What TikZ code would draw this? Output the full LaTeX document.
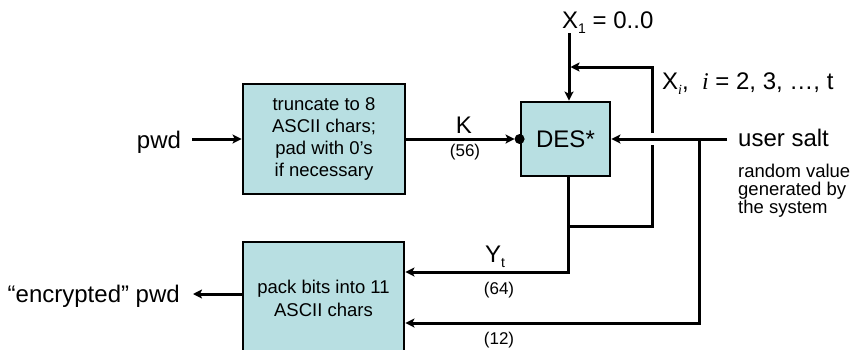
\documentclass[tikz,border=0pt]{standalone}
\usepackage{fontspec}
\setmainfont{Liberation Sans}
\newfontfamily\serifit{Liberation Serif}
\usetikzlibrary{arrows.meta}
\definecolor{boxfill}{RGB}{184,223,226}
\newcommand{\myfs}[2]{\fontsize{#1pt}{#2pt}\selectfont}
\newcommand{\mysub}[1]{\raisebox{-5pt}{\myfs{14}{14}#1}}
\begin{document}
\begin{tikzpicture}[x=1pt,y=-1pt,
  line/.style={line width=3pt},
  arr/.style={line width=3pt,-{Stealth[length=9pt,width=9pt,inset=2pt]}},
  box/.style={draw,line width=2.8pt,fill=boxfill,inner sep=0pt,align=center},
  lbl/.style={inner sep=0pt,font=\myfs{24}{28}},
  small/.style={inner sep=0pt,font=\myfs{17}{20}},
  note/.style={inner sep=0pt,font=\myfs{18.5}{18},align=left}]
\useasboundingbox (0,0) rectangle (852,349);
\clip (0,0) rectangle (852,349);
% boxes
\node[box,minimum width=162pt,minimum height=110pt,font=\myfs{18.5}{22}] (b1) at (324,139)
  {truncate to 8\\ASCII chars;\\pad with 0’s\\if necessary};
\node[box,minimum width=89pt,minimum height=74pt,font=\myfs{24}{28}] (des) at (565.5,139) {DES*};
\node[box,minimum width=161pt,minimum height=112pt,font=\myfs{18.5}{23}] (b2) at (323.5,298)
  {pack bits into 11\\ASCII chars};
% labels
\node[lbl,anchor=base] (pwd) at (159,148) {pwd};
\node[lbl,anchor=base east] (enc) at (180,302) {“encrypted” pwd};
\node[lbl] (K) at (464,125) {K};
\node[small] (k56) at (465,152) {(56)};
\node[lbl,anchor=base west] (x1lbl) at (562,28) {X\mysub{1} = 0..0};
\node[lbl,anchor=base west] (xilbl) at (662,89) {X\mysub{\serifit\itshape i},\ \ {\serifit\itshape i} = 2, 3, …, t};
\node[lbl,anchor=base west] (Yt) at (485,262) {Y\mysub{t}};
\node[small] (y64) at (499,290) {(64)};
\node[small] (s12) at (499,340) {(12)};
\node[lbl,anchor=base west] (salt) at (738,146) {user salt};
\node[note,anchor=north west] (saltnote) at (738,163.5) {random value\\generated by\\the system};
% coordinates
\coordinate (x1) at (569,33);
\coordinate (ds) at ([xshift=2.5pt]des.south);
\coordinate (fbt) at (652,67);
\coordinate (fbb) at (652,226);
\coordinate (gapt) at (652,133);
\coordinate (gapb) at (652,145);
\coordinate (jn) at (ds |- fbb);
\coordinate (ytc) at (jn |- 0,272);
\coordinate (br) at (699,139);
\coordinate (brb) at (699,323);
\coordinate (outp) at (b2.west |- 0,294);
% connectors
\draw[arr,shorten <=11pt] (pwd.east |- b1.west) -- (b1.west);
\draw[arr,shorten >=5pt] (b1.east) -- (des.west);
\fill (des.west) circle (5pt);
\draw[arr] (x1) -- (x1 |- des.north);
\draw[line] (ds) -- (jn) -- (fbb) -- (gapb);
\draw[arr,shorten >=1.5pt] (gapt) -- (fbt) -- (x1 |- fbt);
\draw[arr] (jn) -- (ytc) -- (b2.east |- ytc);
\draw[arr,shorten <=11pt] (salt.west |- des.east) -- (des.east);
\draw[arr] (br) -- (brb) -- (b2.east |- brb);
\draw[arr,shorten >=13pt] (outp) -- (enc.east |- outp);
\end{tikzpicture}
\end{document}
